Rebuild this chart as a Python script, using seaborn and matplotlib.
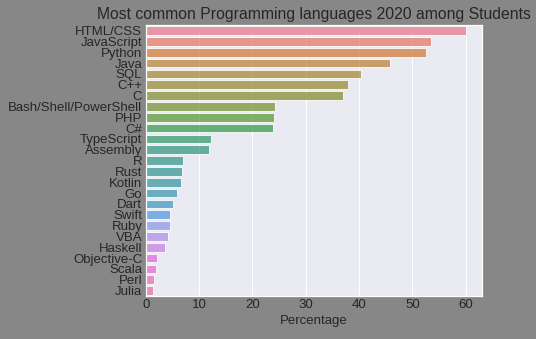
import matplotlib
matplotlib.use("Agg")
import matplotlib.pyplot as plt
import seaborn as sns
import pandas as pd

languages = ["HTML/CSS", "JavaScript", "Python", "Java", "SQL", "C++", "C",
             "Bash/Shell/PowerShell", "PHP", "C#", "TypeScript", "Assembly",
             "R", "Rust", "Kotlin", "Go", "Dart", "Swift", "Ruby", "VBA",
             "Haskell", "Objective-C", "Scala", "Perl", "Julia"]
percentages = [60.05, 53.46, 52.65, 45.87, 40.4, 38.0, 37.0,
               24.3, 24.1, 23.9, 12.2, 11.86,
               6.97, 6.78, 6.59, 5.84, 5.08, 4.52, 4.52, 4.14,
               3.58, 2.07, 1.88, 1.5, 1.32]

df = pd.DataFrame({"Language": languages, "Percentage": percentages})

sns.set_theme(style="darkgrid")
plt.rcParams["font.family"] = ["Liberation Sans", "DejaVu Sans"]

fig = plt.figure(figsize=(536 / 72, 339 / 72), dpi=72, facecolor="#878787")
ax = fig.add_axes([0.272, 0.127, 0.627, 0.799])

sns.barplot(data=df, x="Percentage", y="Language", hue="Language",
            palette="husl", legend=False, edgecolor="white", linewidth=1,
            saturation=0.75, alpha=0.8, ax=ax)

ax.set_title("Most common Programming languages 2020 among Students",
             fontsize=15.8, color="#262626")
ax.set_xlabel("Percentage", fontsize=13.2, color="#262626")
ax.set_ylabel("")
ax.tick_params(axis="both", labelsize=13.2, colors="#262626", length=0)

fig.savefig("out.png", dpi=72, facecolor=fig.get_facecolor())
